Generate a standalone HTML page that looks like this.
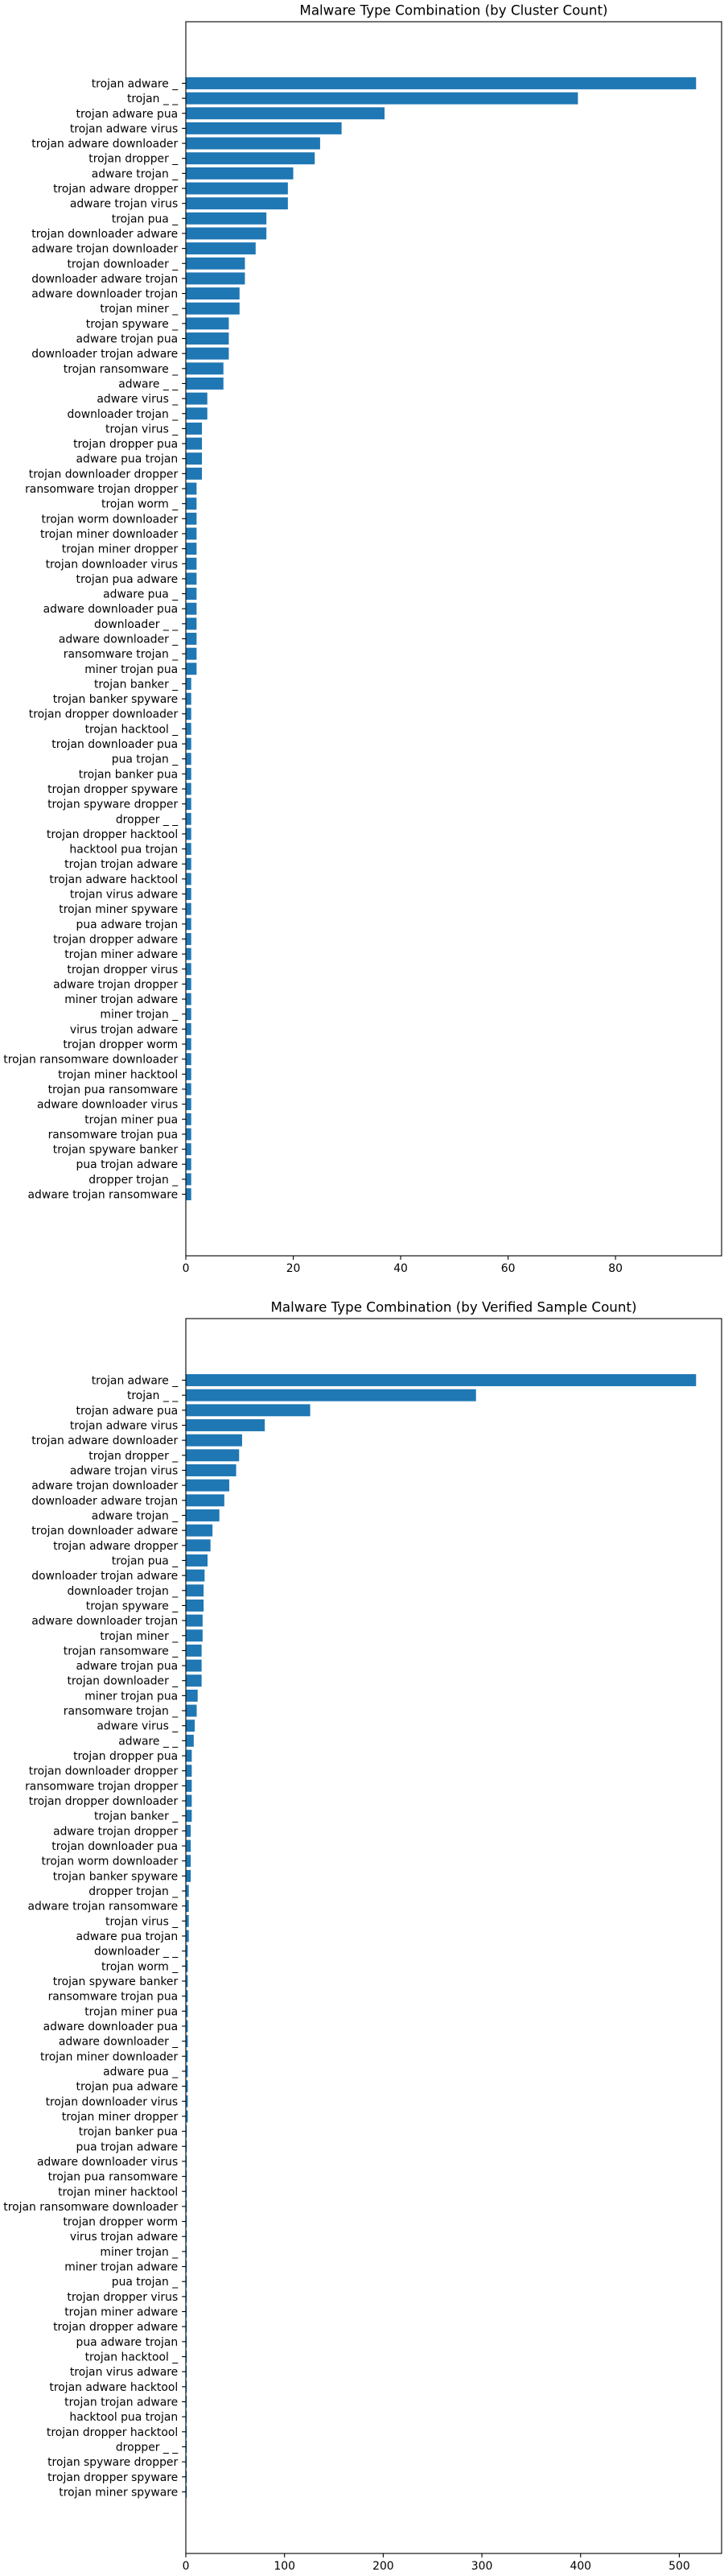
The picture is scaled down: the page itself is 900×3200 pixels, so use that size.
<!DOCTYPE html>
<html><head><meta charset="utf-8"><style>
html,body{margin:0;padding:0;background:#fff;}
svg{display:block;font-family:"DejaVu Sans","Liberation Sans",sans-serif;}
</style></head><body>
<svg id="chart" width="900" height="3200" viewBox="0 0 900 3200" xmlns="http://www.w3.org/2000/svg"></svg>
<script>
const clusterCategories = ["trojan adware _","trojan _ _","trojan adware pua","trojan adware virus","trojan adware downloader","trojan dropper _","adware trojan _","trojan adware dropper","adware trojan virus","trojan pua _","trojan downloader adware","adware trojan downloader","trojan downloader _","downloader adware trojan","adware downloader trojan","trojan miner _","trojan spyware _","adware trojan pua","downloader trojan adware","trojan ransomware _","adware _ _","adware virus _","downloader trojan _","trojan virus _","trojan dropper pua","adware pua trojan","trojan downloader dropper","ransomware trojan dropper","trojan worm _","trojan worm downloader","trojan miner downloader","trojan miner dropper","trojan downloader virus","trojan pua adware","adware pua _","adware downloader pua","downloader _ _","adware downloader _","ransomware trojan _","miner trojan pua","trojan banker _","trojan banker spyware","trojan dropper downloader","trojan hacktool _","trojan downloader pua","pua trojan _","trojan banker pua","trojan dropper spyware","trojan spyware dropper","dropper _ _","trojan dropper hacktool","hacktool pua trojan","trojan trojan adware","trojan adware hacktool","trojan virus adware","trojan miner spyware","pua adware trojan","trojan dropper adware","trojan miner adware","trojan dropper virus","adware trojan dropper","miner trojan adware","miner trojan _","virus trojan adware","trojan dropper worm","trojan ransomware downloader","trojan miner hacktool","trojan pua ransomware","adware downloader virus","trojan miner pua","ransomware trojan pua","trojan spyware banker","pua trojan adware","dropper trojan _","adware trojan ransomware"];
const clusterValues = [95,73,37,29,25,24,20,19,19,15,15,13,11,11,10,10,8,8,8,7,7,4,4,3,3,3,3,2,2,2,2,2,2,2,2,2,2,2,2,2,1,1,1,1,1,1,1,1,1,1,1,1,1,1,1,1,1,1,1,1,1,1,1,1,1,1,1,1,1,1,1,1,1,1,1];
const clusterTicks = [0,20,40,60,80];

const sampleCategories = ["trojan adware _","trojan _ _","trojan adware pua","trojan adware virus","trojan adware downloader","trojan dropper _","adware trojan virus","adware trojan downloader","downloader adware trojan","adware trojan _","trojan downloader adware","trojan adware dropper","trojan pua _","downloader trojan adware","downloader trojan _","trojan spyware _","adware downloader trojan","trojan miner _","trojan ransomware _","adware trojan pua","trojan downloader _","miner trojan pua","ransomware trojan _","adware virus _","adware _ _","trojan dropper pua","trojan downloader dropper","ransomware trojan dropper","trojan dropper downloader","trojan banker _","adware trojan dropper","trojan downloader pua","trojan worm downloader","trojan banker spyware","dropper trojan _","adware trojan ransomware","trojan virus _","adware pua trojan","downloader _ _","trojan worm _","trojan spyware banker","ransomware trojan pua","trojan miner pua","adware downloader pua","adware downloader _","trojan miner downloader","adware pua _","trojan pua adware","trojan downloader virus","trojan miner dropper","trojan banker pua","pua trojan adware","adware downloader virus","trojan pua ransomware","trojan miner hacktool","trojan ransomware downloader","trojan dropper worm","virus trojan adware","miner trojan _","miner trojan adware","pua trojan _","trojan dropper virus","trojan miner adware","trojan dropper adware","pua adware trojan","trojan hacktool _","trojan virus adware","trojan adware hacktool","trojan trojan adware","hacktool pua trojan","trojan dropper hacktool","dropper _ _","trojan spyware dropper","trojan dropper spyware","trojan miner spyware"];
const sampleValues = [517,294,126,80,57,54,51,44,39,34,27,25,22,19,18,18,17,17,16,16,16,12,11,9,8,6,6,6,6,6,5,5,5,5,3,3,3,3,2,2,2,2,2,2,2,2,2,2,2,2,1,1,1,1,1,1,1,1,1,1,1,1,1,1,1,1,1,1,1,1,1,1,1,1,1];
const sampleTicks = [0,100,200,300,400,500];

const NS = "http://www.w3.org/2000/svg";
const svg = document.getElementById('chart');
function mk(tag, attrs, parent){
  const e = document.createElementNS(NS, tag);
  for (const k in attrs) e.setAttribute(k, attrs[k]);
  (parent||svg).appendChild(e);
  return e;
}

function drawChart(prefix, title, cats, vals, ticks, top, bottom){
  const left = 231, right = 897;
  const g = mk('g', {});
  
  
  const xmax = Math.max(...vals) * 1.05;
  const xScale = v => left + v / xmax * (right - left);
  const n = cats.length;
  const pad = 4.1;
  const step = (bottom - top) / (n - 1 + 2 * pad);
  const yScale = i => top + (pad + i) * step;
  const bh = step * 0.8;

  const t = mk('text', {x: (left + right) / 2, y: top - 8.3, 'text-anchor': 'middle', 'font-size': '16.7', fill: '#000'}, g);
  t.textContent = title;
  
  

  cats.forEach((c, i) => {
    const y = yScale(i);
    const r = mk('rect', {x: left, y: y - bh / 2, width: Math.max(0, xScale(vals[i]) - left), height: bh, fill: '#1f77b4'}, g);
    
    
    mk('line', {x1: left - 4.9, x2: left, y1: y, y2: y, stroke: '#000', 'stroke-width': 1.1}, g);
    const lb = mk('text', {x: left - 9.8, y: y + 5, 'text-anchor': 'end', 'font-size': '13.9', fill: '#000'}, g);
    lb.textContent = c;
    
    
  });

  ticks.forEach(tv => {
    const x = xScale(tv);
    mk('line', {x1: x, x2: x, y1: bottom, y2: bottom + 4.9, stroke: '#000', 'stroke-width': 1.1}, g);
    const tl = mk('text', {x: x, y: bottom + 20, 'text-anchor': 'middle', 'font-size': '13.9', fill: '#000'}, g);
    tl.textContent = tv;
    
    
  });

  const frame = mk('rect', {x: left, y: top, width: right - left, height: bottom - top, fill: 'none', stroke: '#000', 'stroke-width': 1.1}, g);
  
  
}

drawChart('cluster-count', 'Malware Type Combination (by Cluster Count)', clusterCategories, clusterValues, clusterTicks, 27, 1560);
drawChart('verified-sample-count', 'Malware Type Combination (by Verified Sample Count)', sampleCategories, sampleValues, sampleTicks, 1638, 3172);
</script>
</body></html>
